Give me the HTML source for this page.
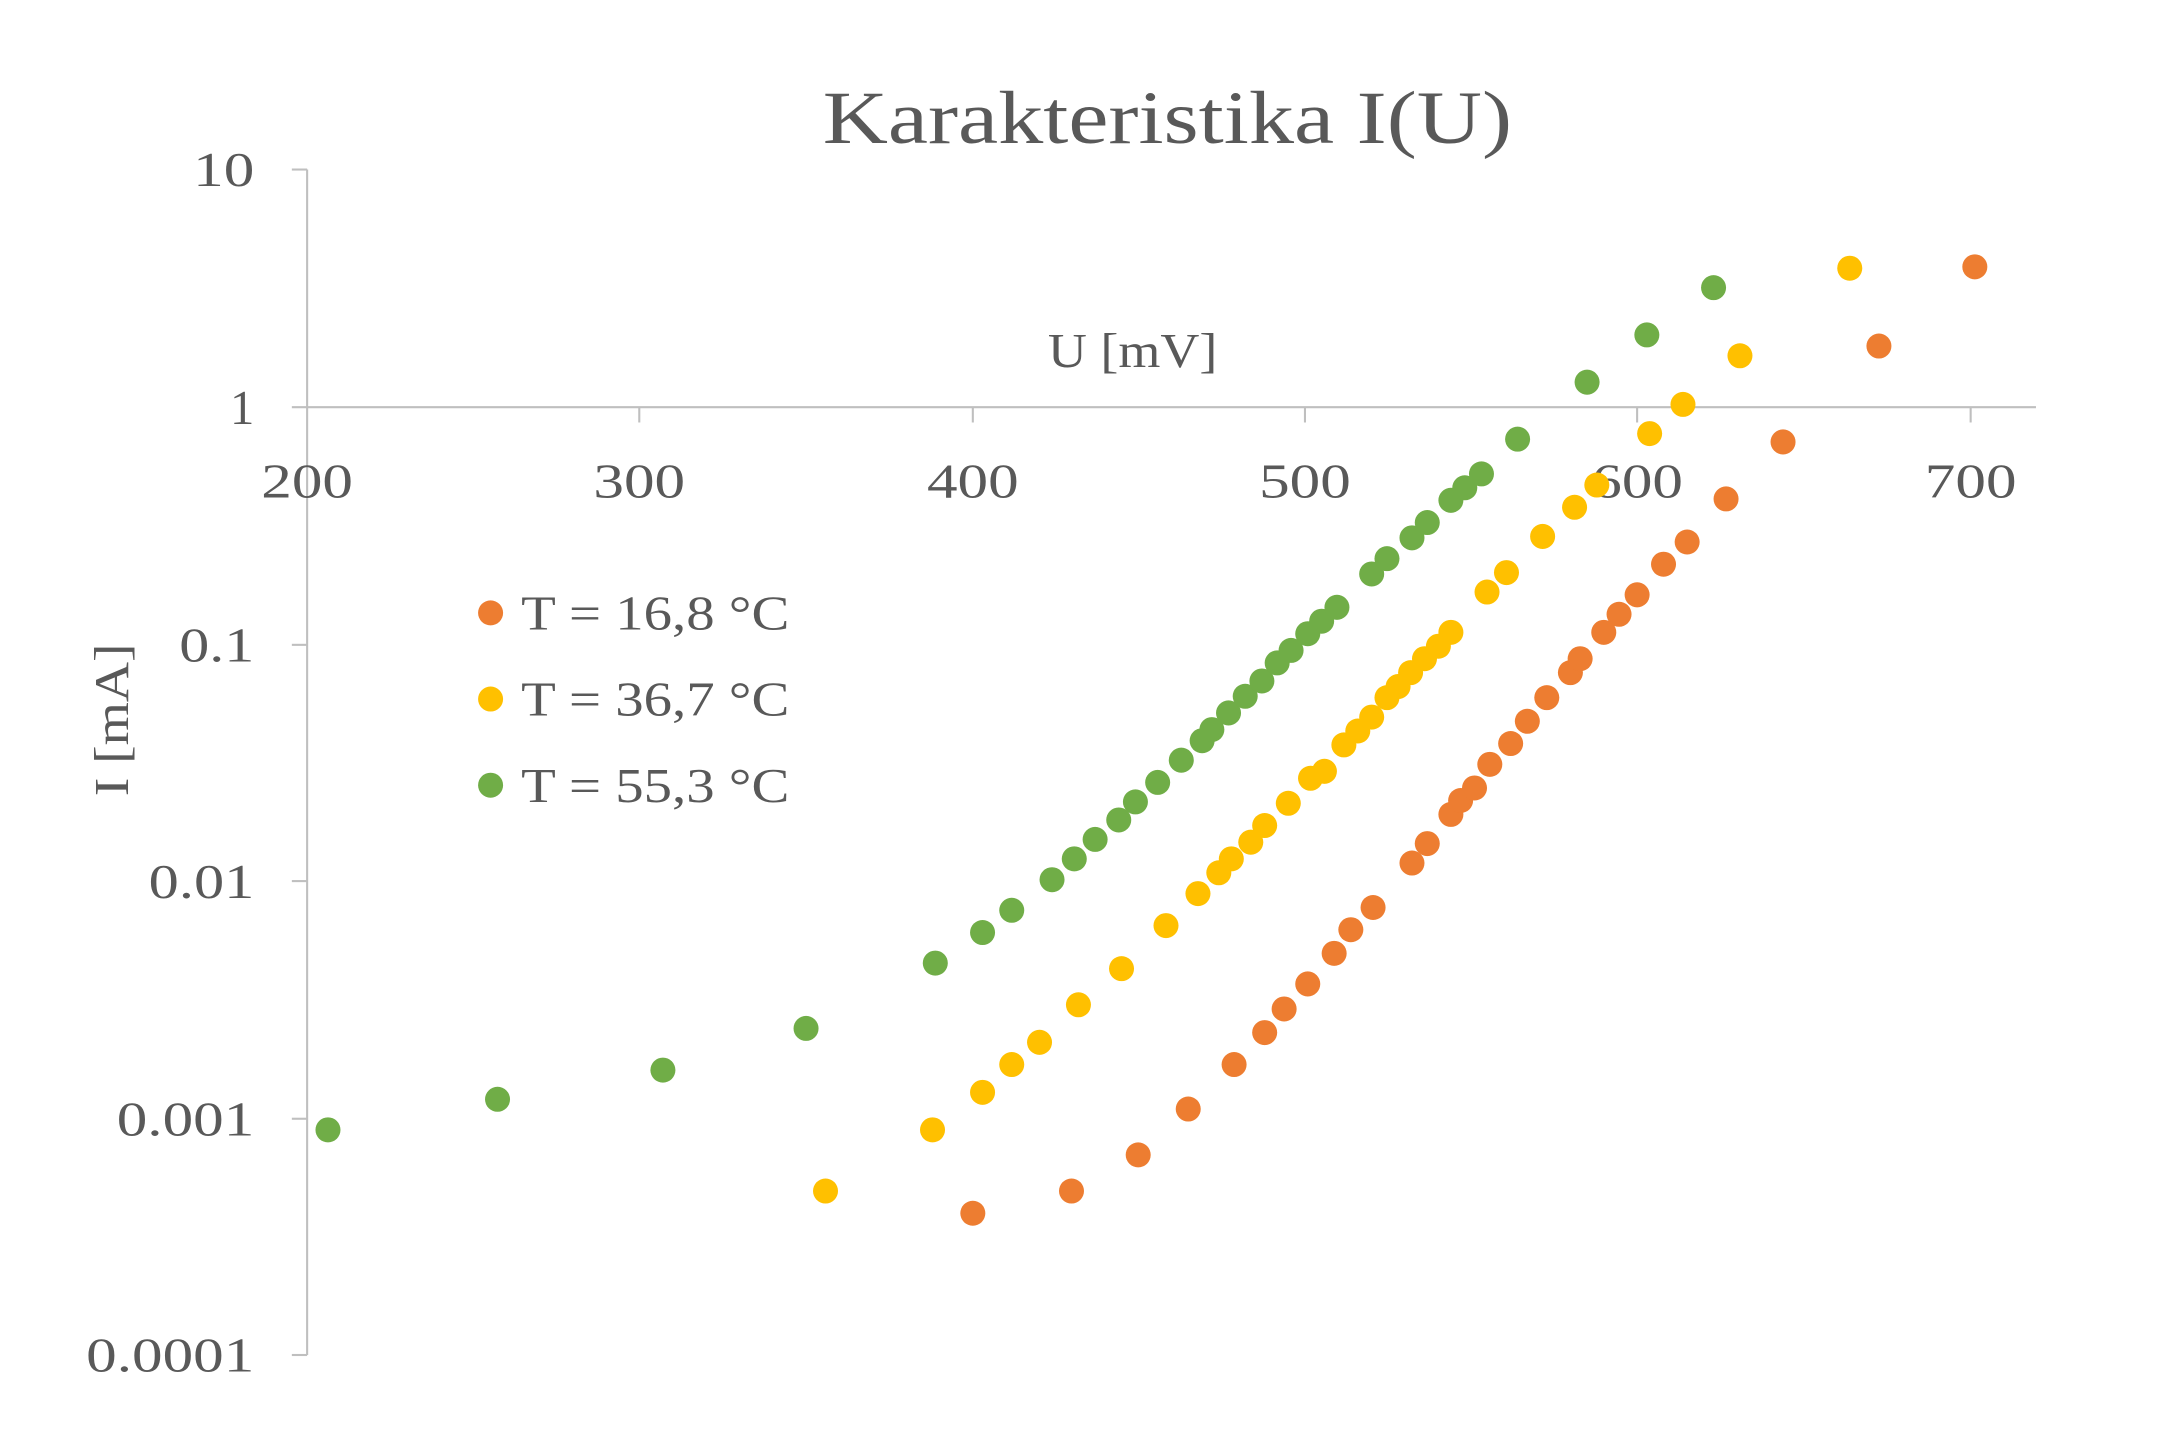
<!DOCTYPE html>
<html><head><meta charset="utf-8"><style>html,body{margin:0;padding:0;background:#fff}svg{display:block}</style></head>
<body>
<svg width="2168" height="1440" viewBox="0 0 1560 1036.16" preserveAspectRatio="none" xmlns="http://www.w3.org/2000/svg" font-family="'Liberation Serif', serif" fill="#595959">
<rect width="1560" height="1037" fill="#fff"/>
<g stroke="#bfbfbf" stroke-width="1.5">
<line x1="221" y1="122" x2="221" y2="975"/>
<line x1="210" y1="293" x2="1465" y2="293"/>
<line x1="210" y1="122" x2="221" y2="122"/>
<line x1="210" y1="464" x2="221" y2="464"/>
<line x1="210" y1="634" x2="221" y2="634"/>
<line x1="210" y1="805" x2="221" y2="805"/>
<line x1="210" y1="975" x2="221" y2="975"/>
<line x1="460" y1="293" x2="460" y2="304"/>
<line x1="700" y1="293" x2="700" y2="304"/>
<line x1="939" y1="293" x2="939" y2="304"/>
<line x1="1178" y1="293" x2="1178" y2="304"/>
<line x1="1418" y1="293" x2="1418" y2="304"/>
</g>
<text x="592" y="103" font-size="54" textLength="496" lengthAdjust="spacingAndGlyphs">Karakteristika I(U)</text>
<g font-size="35" text-anchor="end">
<text x="183" y="134" textLength="44" lengthAdjust="spacingAndGlyphs">10</text>
<text x="183" y="305">1</text>
<text x="183" y="476" textLength="54" lengthAdjust="spacingAndGlyphs">0.1</text>
<text x="183" y="646" textLength="76" lengthAdjust="spacingAndGlyphs">0.01</text>
<text x="183" y="817" textLength="99" lengthAdjust="spacingAndGlyphs">0.001</text>
<text x="183" y="987" textLength="121" lengthAdjust="spacingAndGlyphs">0.0001</text>
</g>
<g font-size="35" text-anchor="middle">
<text x="221" y="358" textLength="66" lengthAdjust="spacingAndGlyphs">200</text>
<text x="460" y="358" textLength="66" lengthAdjust="spacingAndGlyphs">300</text>
<text x="700" y="358" textLength="66" lengthAdjust="spacingAndGlyphs">400</text>
<text x="939" y="358" textLength="66" lengthAdjust="spacingAndGlyphs">500</text>
<text x="1178" y="358" textLength="66" lengthAdjust="spacingAndGlyphs">600</text>
<text x="1418" y="358" textLength="66" lengthAdjust="spacingAndGlyphs">700</text>
<text x="815" y="264" textLength="122" lengthAdjust="spacingAndGlyphs">U [mV]</text>
<text transform="translate(92,518) rotate(-90)" textLength="110" lengthAdjust="spacingAndGlyphs">I [mA]</text>
</g>
<g font-size="35">
<circle cx="353" cy="441" r="9" fill="#ed7d31"/><text x="375" y="453" textLength="193" lengthAdjust="spacingAndGlyphs">T = 16,8 °C</text>
<circle cx="353" cy="503" r="9" fill="#ffc000"/><text x="375" y="515" textLength="193" lengthAdjust="spacingAndGlyphs">T = 36,7 °C</text>
<circle cx="353" cy="565" r="9" fill="#70ad47"/><text x="375" y="577" textLength="193" lengthAdjust="spacingAndGlyphs">T = 55,3 °C</text>
</g>
<g fill="#70ad47">
<circle cx="236" cy="813" r="9"/><circle cx="358" cy="791" r="9"/><circle cx="477" cy="770" r="9"/><circle cx="580" cy="740" r="9"/><circle cx="673" cy="693" r="9"/><circle cx="707" cy="671" r="9"/><circle cx="728" cy="655" r="9"/><circle cx="757" cy="633" r="9"/><circle cx="773" cy="618" r="9"/><circle cx="788" cy="604" r="9"/><circle cx="805" cy="590" r="9"/><circle cx="817" cy="577" r="9"/><circle cx="833" cy="563" r="9"/><circle cx="850" cy="547" r="9"/><circle cx="865" cy="533" r="9"/><circle cx="872" cy="525" r="9"/><circle cx="884" cy="513" r="9"/><circle cx="896" cy="501" r="9"/><circle cx="908" cy="490" r="9"/><circle cx="919" cy="477" r="9"/><circle cx="929" cy="468" r="9"/><circle cx="941" cy="456" r="9"/><circle cx="951" cy="447" r="9"/><circle cx="962" cy="437" r="9"/><circle cx="987" cy="413" r="9"/><circle cx="998" cy="402" r="9"/><circle cx="1016" cy="387" r="9"/><circle cx="1027" cy="376" r="9"/><circle cx="1044" cy="360" r="9"/><circle cx="1054" cy="351" r="9"/><circle cx="1066" cy="341" r="9"/><circle cx="1092" cy="316" r="9"/><circle cx="1142" cy="275" r="9"/><circle cx="1185" cy="241" r="9"/><circle cx="1233" cy="207" r="9"/>
</g>
<g fill="#ffc000">
<circle cx="594" cy="857" r="9"/><circle cx="671" cy="813" r="9"/><circle cx="707" cy="786" r="9"/><circle cx="728" cy="766" r="9"/><circle cx="748" cy="750" r="9"/><circle cx="776" cy="723" r="9"/><circle cx="807" cy="697" r="9"/><circle cx="839" cy="666" r="9"/><circle cx="862" cy="643" r="9"/><circle cx="877" cy="628" r="9"/><circle cx="886" cy="618" r="9"/><circle cx="900" cy="606" r="9"/><circle cx="910" cy="594" r="9"/><circle cx="927" cy="578" r="9"/><circle cx="943" cy="560" r="9"/><circle cx="953" cy="555" r="9"/><circle cx="967" cy="536" r="9"/><circle cx="977" cy="526" r="9"/><circle cx="987" cy="516" r="9"/><circle cx="998" cy="502" r="9"/><circle cx="1006" cy="494" r="9"/><circle cx="1015" cy="484" r="9"/><circle cx="1025" cy="474" r="9"/><circle cx="1035" cy="465" r="9"/><circle cx="1044" cy="455" r="9"/><circle cx="1070" cy="426" r="9"/><circle cx="1084" cy="412" r="9"/><circle cx="1110" cy="386" r="9"/><circle cx="1133" cy="365" r="9"/><circle cx="1149" cy="349" r="9"/><circle cx="1187" cy="312" r="9"/><circle cx="1211" cy="291" r="9"/><circle cx="1252" cy="256" r="9"/><circle cx="1331" cy="193" r="9"/>
</g>
<g fill="#ed7d31">
<circle cx="700" cy="873" r="9"/><circle cx="771" cy="857" r="9"/><circle cx="819" cy="831" r="9"/><circle cx="855" cy="798" r="9"/><circle cx="888" cy="766" r="9"/><circle cx="910" cy="743" r="9"/><circle cx="924" cy="726" r="9"/><circle cx="941" cy="708" r="9"/><circle cx="960" cy="686" r="9"/><circle cx="972" cy="669" r="9"/><circle cx="988" cy="653" r="9"/><circle cx="1016" cy="621" r="9"/><circle cx="1027" cy="607" r="9"/><circle cx="1044" cy="586" r="9"/><circle cx="1051" cy="576" r="9"/><circle cx="1061" cy="567" r="9"/><circle cx="1072" cy="550" r="9"/><circle cx="1087" cy="535" r="9"/><circle cx="1099" cy="519" r="9"/><circle cx="1113" cy="502" r="9"/><circle cx="1130" cy="484" r="9"/><circle cx="1137" cy="474" r="9"/><circle cx="1154" cy="455" r="9"/><circle cx="1165" cy="442" r="9"/><circle cx="1178" cy="428" r="9"/><circle cx="1197" cy="406" r="9"/><circle cx="1214" cy="390" r="9"/><circle cx="1242" cy="359" r="9"/><circle cx="1283" cy="318" r="9"/><circle cx="1352" cy="249" r="9"/><circle cx="1421" cy="192" r="9"/>
</g>
</svg>
</body></html>
